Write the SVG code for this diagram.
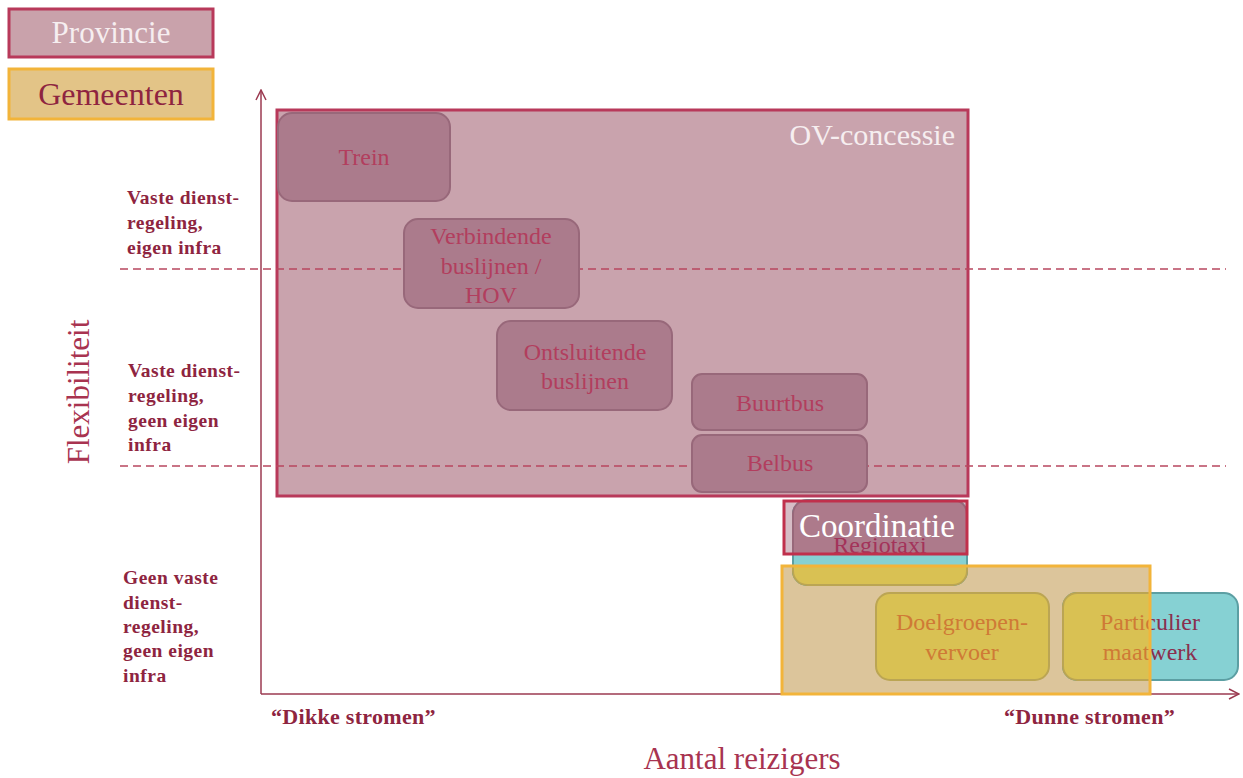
<svg xmlns="http://www.w3.org/2000/svg" width="1243" height="778" viewBox="0 0 1243 778">
<defs>
<style>
.serif{font-family:"Liberation Serif","DejaVu Serif",serif}
.lbl{font-family:"Liberation Serif","DejaVu Serif",serif;font-weight:bold;font-size:19.5px;letter-spacing:0.5px;fill:#8e2440}
.str{font-family:"Liberation Serif","DejaVu Serif",serif;font-weight:bold;font-size:22px;letter-spacing:0.3px;fill:#8e2440}
.nodeR{fill:#ab7b8c;stroke:#98687a;stroke-width:2}
.ntx{font-family:"Liberation Serif","DejaVu Serif",serif;font-size:24px;fill:#b23e5e;text-anchor:middle}
.cyan{fill:#86d1d3;stroke:#5c9fa3;stroke-width:2}
.ctx{font-family:"Liberation Serif","DejaVu Serif",serif;font-size:24px;fill:#8a2f4e;text-anchor:middle}
.yel{fill:#d9c153;stroke:#bba553;stroke-width:2}
.ytx{font-family:"Liberation Serif","DejaVu Serif",serif;font-size:24px;fill:#cf7a36;text-anchor:middle}
.mau{fill:#ad7a8b;stroke:#98687a;stroke-width:2}
.mtx{font-family:"Liberation Serif","DejaVu Serif",serif;font-size:24px;fill:#a3335a;text-anchor:middle}
.dash{stroke:#b8475f;stroke-width:1.5;stroke-dasharray:8 5;fill:none}
.axis{stroke:#9b3a50;stroke-width:1.5;fill:none}
</style>
<clipPath id="clipG"><rect x="782" y="566" width="368" height="128"/></clipPath>
<clipPath id="clipC"><rect x="784" y="501" width="183" height="53"/></clipPath>
<marker id="arr" viewBox="0 0 12 12" refX="11" refY="6" markerWidth="12" markerHeight="12" markerUnits="userSpaceOnUse" orient="auto">
<path d="M1,1 L11,6 L1,11" fill="none" stroke="#9b3a50" stroke-width="1.5"/>
</marker>
</defs>
<rect width="1243" height="778" fill="#ffffff"/>

<g id="legend-provincie">
<rect x="9" y="9" width="204" height="48" fill="#c9a2ab" stroke="#b8395a" stroke-width="3"/>
<text class="serif" x="111" y="43" font-size="31" fill="#f6eef0" text-anchor="middle">Provincie</text>
</g>
<g id="legend-gemeenten">
<rect x="9" y="69" width="204" height="50" fill="#e3c487" stroke="#f2b43a" stroke-width="3"/>
<text class="serif" x="111" y="105" font-size="32" fill="#8e2440" text-anchor="middle">Gemeenten</text>
</g>

<g id="axes">
<line class="axis" x1="261" y1="694" x2="261" y2="90" marker-end="url(#arr)"/>
<line class="axis" x1="261" y1="694" x2="1239" y2="694" marker-end="url(#arr)"/>
<text class="serif" transform="translate(89 392) rotate(-90)" font-size="31" fill="#a83350" text-anchor="middle">Flexibiliteit</text>
<text class="serif" x="742" y="769" font-size="31" fill="#a83350" text-anchor="middle">Aantal reizigers</text>
<text class="str" x="271" y="724">“Dikke stromen”</text>
<text class="str" x="1175" y="724" text-anchor="end">“Dunne stromen”</text>
</g>

<g id="row-labels">
<text class="lbl"><tspan x="127" y="204">Vaste dienst-</tspan><tspan x="127" y="229">regeling,</tspan><tspan x="127" y="254">eigen infra</tspan></text>
<text class="lbl"><tspan x="128" y="377">Vaste dienst-</tspan><tspan x="128" y="402">regeling,</tspan><tspan x="128" y="427">geen eigen</tspan><tspan x="128" y="451">infra</tspan></text>
<text class="lbl"><tspan x="123" y="584">Geen vaste</tspan><tspan x="123" y="609">dienst-</tspan><tspan x="123" y="633">regeling,</tspan><tspan x="123" y="657">geen eigen</tspan><tspan x="123" y="682">infra</tspan></text>
</g>

<g id="ov-concessie">
<rect x="277" y="110" width="691" height="386" fill="#c9a3ad" stroke="#b8395a" stroke-width="3"/>
<text class="serif" x="955" y="145" font-size="30" fill="#f6eef0" text-anchor="end">OV-concessie</text>
</g>

<g id="connectors">
<line class="dash" x1="120" y1="269" x2="1226" y2="269"/>
<line class="dash" x1="120" y1="466" x2="1226" y2="466"/>
</g>

<g id="trein">
<rect class="nodeR" x="278" y="113" width="172" height="88" rx="14"/>
<text class="ntx" x="364" y="165">Trein</text>
</g>
<g id="verbindende">
<rect class="nodeR" x="404" y="219" width="175" height="89" rx="14"/>
<text class="ntx"><tspan x="491" y="244">Verbindende</tspan><tspan x="491" y="274">buslijnen /</tspan><tspan x="491" y="303">HOV</tspan></text>
</g>
<g id="ontsluitende">
<rect class="nodeR" x="497" y="321" width="175" height="89" rx="14"/>
<text class="ntx"><tspan x="585" y="360">Ontsluitende</tspan><tspan x="585" y="389">buslijnen</tspan></text>
</g>
<g id="buurtbus">
<rect class="nodeR" x="692" y="374" width="175" height="56" rx="10"/>
<text class="ntx" x="780" y="411">Buurtbus</text>
</g>
<g id="belbus">
<rect class="nodeR" x="692" y="435" width="175" height="57" rx="10"/>
<text class="ntx" x="780" y="471">Belbus</text>
</g>

<g id="gemeenten-area">
<rect x="782" y="566" width="368" height="128" fill="#dcc59b"/>
</g>
<g id="coordinatie-area">
<rect x="784" y="501" width="183" height="53" fill="#d6bdc6"/>
</g>

<g id="regiotaxi">
<rect class="cyan" x="793" y="500" width="174" height="85" rx="14"/>
<g clip-path="url(#clipG)"><rect class="yel" x="793" y="500" width="174" height="85" rx="14"/></g>
<g clip-path="url(#clipC)"><rect class="mau" x="793" y="500" width="174" height="85" rx="14"/>
<text class="mtx" x="880" y="553">Regiotaxi</text></g>
</g>
<g id="doelgroepen">
<rect class="yel" x="876" y="593" width="173" height="87" rx="14"/>
<text class="ytx"><tspan x="962" y="630">Doelgroepen-</tspan><tspan x="962" y="660">vervoer</tspan></text>
</g>
<g id="particulier">
<rect class="cyan" x="1063" y="593" width="175" height="87" rx="14"/>
<text class="ctx"><tspan x="1150" y="630">Particulier</tspan><tspan x="1150" y="660">maatwerk</tspan></text>
<g clip-path="url(#clipG)">
<rect class="yel" x="1063" y="593" width="175" height="87" rx="14"/>
<text class="ytx"><tspan x="1150" y="630">Particulier</tspan><tspan x="1150" y="660">maatwerk</tspan></text>
</g>
</g>

<g id="coordinatie">
<rect x="784" y="501" width="183" height="53" fill="none" stroke="#c0304c" stroke-width="3"/>
<text class="serif" x="877" y="537" font-size="33" fill="#ffffff" text-anchor="middle">Coordinatie</text>
</g>
<g id="gemeenten">
<rect x="782" y="566" width="368" height="128" fill="none" stroke="#f2b43a" stroke-width="3"/>
</g>
</svg>
